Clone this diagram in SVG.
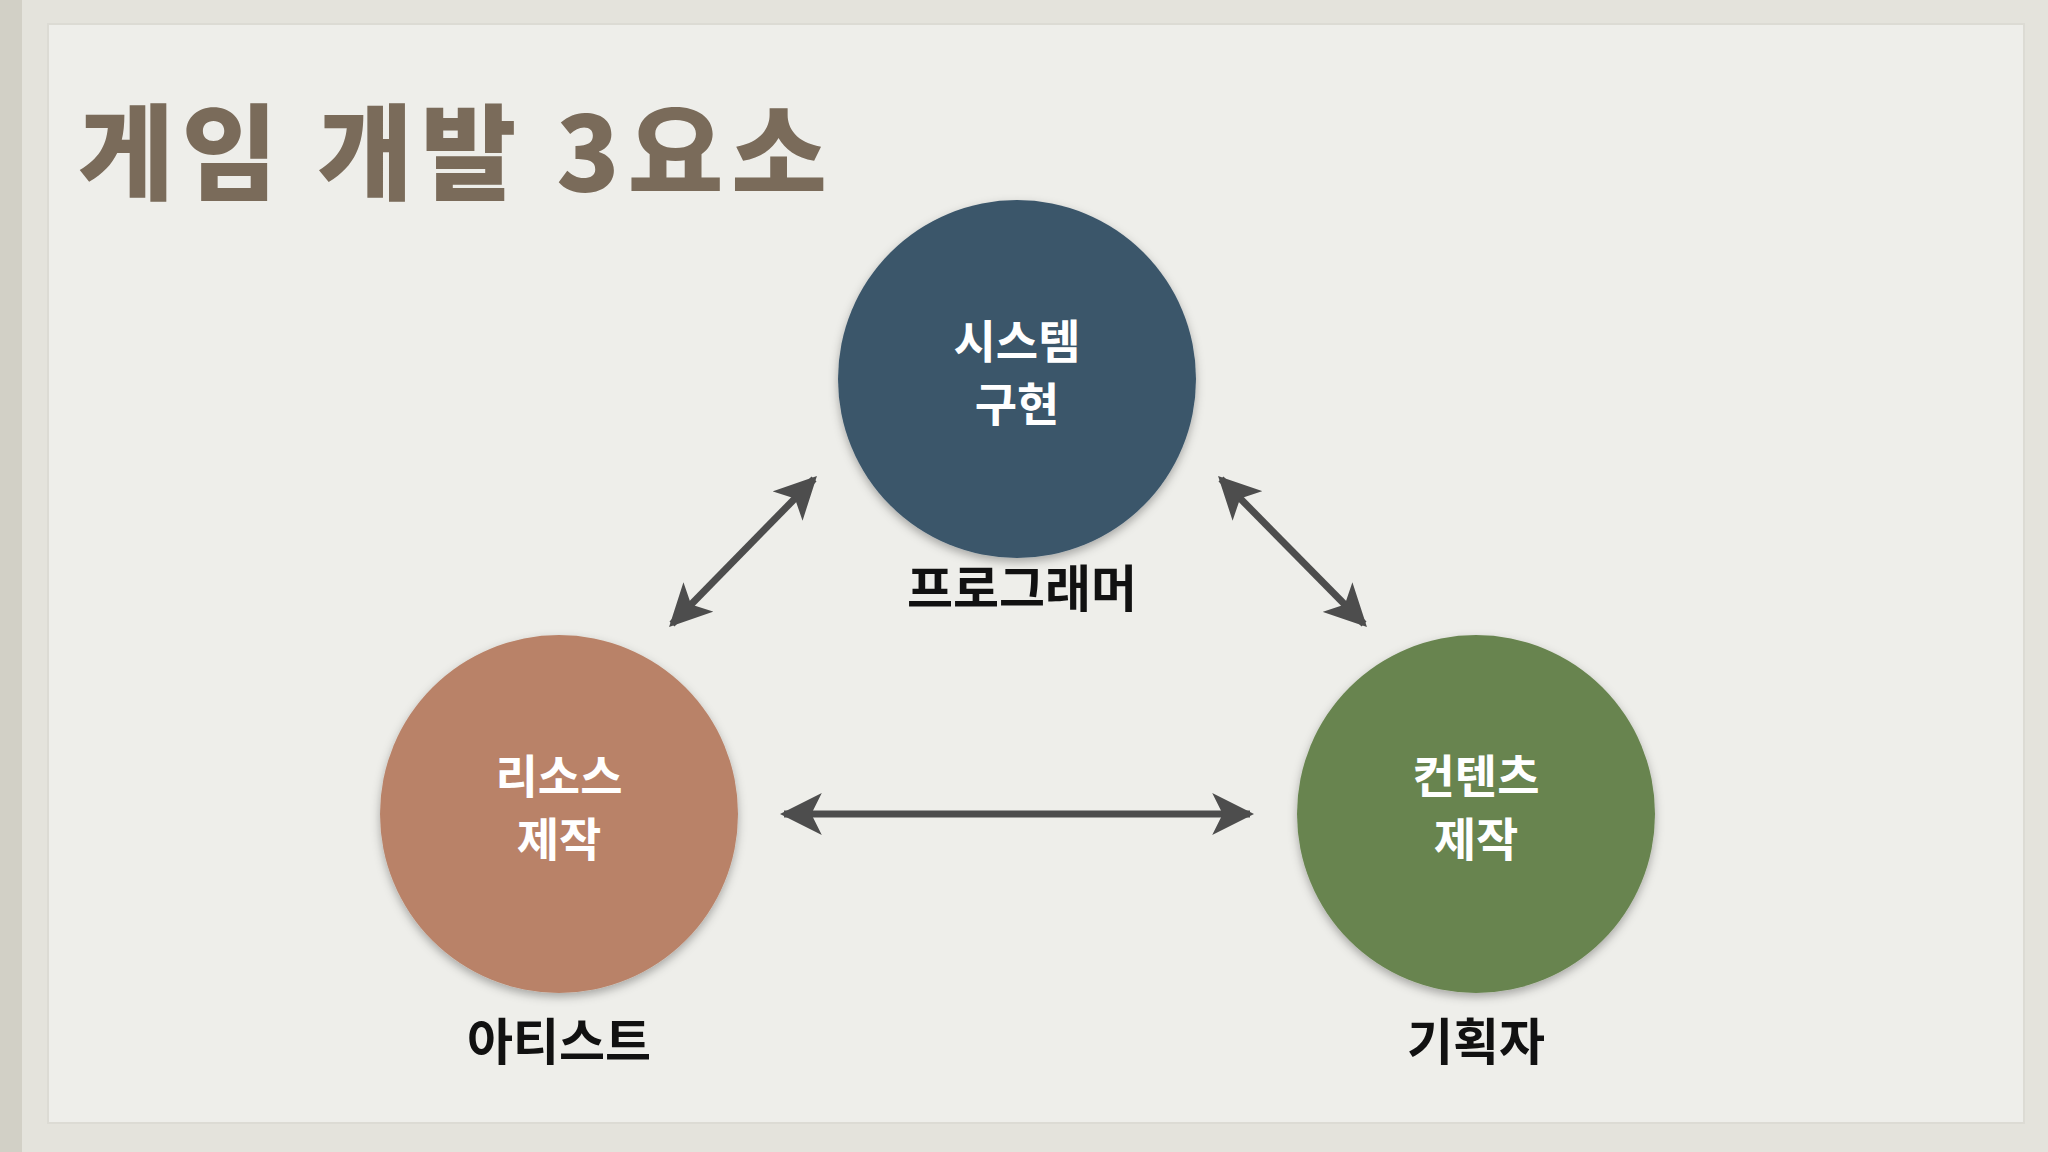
<svg xmlns="http://www.w3.org/2000/svg" width="2048" height="1152" viewBox="0 0 2048 1152">
<defs>
<style>
.t{font-family:"Noto Sans CJK KR","Noto Sans",sans-serif;}
.in{fill:#ffffff;font-size:46px;font-weight:bold;text-anchor:middle;}
.lb{fill:#111111;font-size:50px;font-weight:bold;text-anchor:middle;}
.ar{stroke:#4d4d4d;stroke-width:7;fill:none;marker-start:url(#a);marker-end:url(#a);}
</style>
<marker id="a" viewBox="0 0 10 10" refX="9" refY="5" markerWidth="6" markerHeight="6" orient="auto-start-reverse" markerUnits="strokeWidth">
<path d="M0,0 L10,5 L0,10 L2.5,5 Z" fill="#4d4d4d"/>
</marker>
<filter id="s" x="-20%" y="-20%" width="140%" height="140%"><feDropShadow dx="0" dy="4" stdDeviation="5" flood-opacity="0.3"/></filter>
</defs>
<rect width="2048" height="1152" fill="#e4e3dc"/>
<rect x="0" y="0" width="22" height="1152" fill="#d2d0c6"/>
<rect x="48" y="24" width="1976" height="1099" fill="#eeeeea" stroke="#dcdbd4" stroke-width="2"/>
<text class="t" x="78" y="192" font-size="104" font-weight="900" fill="#7a6b5a" letter-spacing="8">게임 개발 3요소</text>
<g id="connectors">
<line class="ar" x1="672" y1="624" x2="814" y2="479"/>
<line class="ar" x1="1221" y1="479" x2="1364" y2="624"/>
<line class="ar" x1="784" y1="814" x2="1250" y2="814"/>
</g>
<g id="system">
<circle cx="1017" cy="379" r="179" fill="#3b566b" filter="url(#s)"/>
<text class="t in" x="1017" y="358">시스템</text>
<text class="t in" x="1017" y="421">구현</text>
<text class="t lb" x="1022" y="607">프로그래머</text>
</g>
<g id="resource">
<circle cx="559" cy="814" r="179" fill="#b98268" filter="url(#s)"/>
<text class="t in" x="559" y="793">리소스</text>
<text class="t in" x="559" y="856">제작</text>
<text class="t lb" x="559" y="1060">아티스트</text>
</g>
<g id="content">
<circle cx="1476" cy="814" r="179" fill="#68844f" filter="url(#s)"/>
<text class="t in" x="1476" y="793">컨텐츠</text>
<text class="t in" x="1476" y="856">제작</text>
<text class="t lb" x="1476" y="1060">기획자</text>
</g>
</svg>
